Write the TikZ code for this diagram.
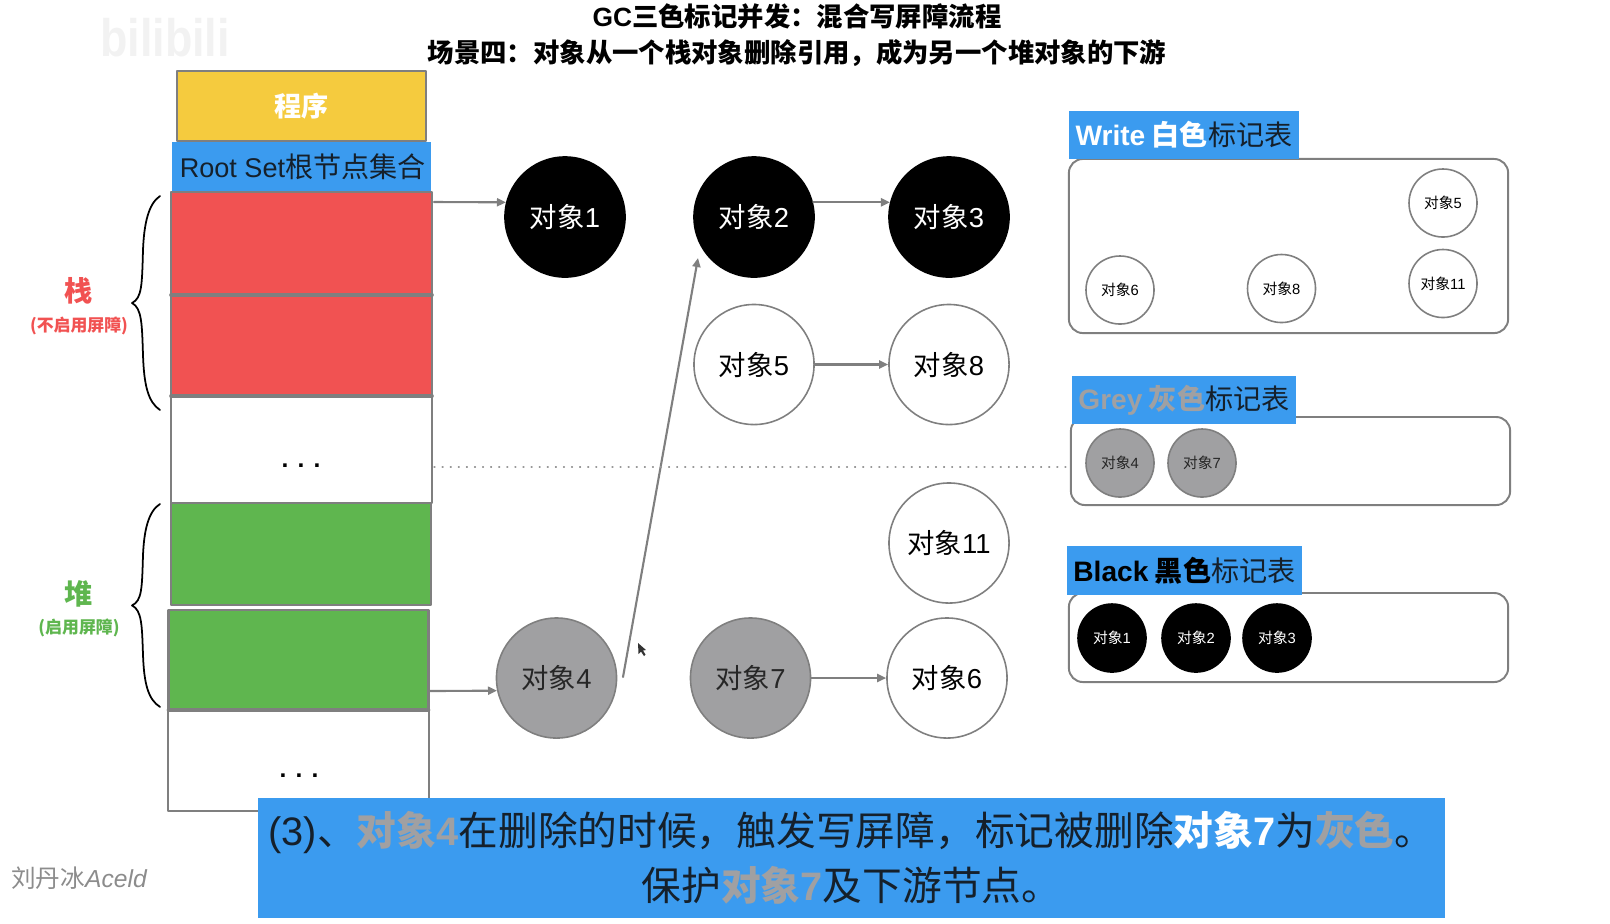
\documentclass[tikz,border=0pt]{standalone}
\usepackage{fontspec}
\setmainfont{Noto Sans CJK SC}
\newfontfamily\en{Liberation Sans}
\usetikzlibrary{arrows.meta}
\definecolor{progyellow}{HTML}{F5CB3E}
\definecolor{tagblue}{HTML}{3B9BEF}
\definecolor{stackred}{HTML}{F15252}
\definecolor{heapgreen}{HTML}{5FB64F}
\definecolor{objgrey}{HTML}{A0A0A2}
\definecolor{linegrey}{HTML}{7F7F7F}
\definecolor{inkdark}{HTML}{15202B}
\newcommand\obj[1]{对象{\en #1}}
\newcommand\size[1]{\fontsize{#1}{#1}\selectfont}
\begin{document}
\begin{tikzpicture}[x=0.01cm, y=-0.01cm, line cap=round, line join=round,
    cell/.style={draw=linegrey, line width=0.6pt, inner sep=0pt, outer sep=0pt},
    slot/.style={cell, line width=0.7pt},
    tag/.style={fill=tagblue, inner sep=0pt, outer sep=0pt, text=inkdark, font=\size{8}},
    tbl/.style={draw=linegrey, line width=0.55pt, rounded corners=0.14cm, inner sep=0pt, fill=white},
    bigobj/.style={circle, draw=linegrey, line width=0.45pt, minimum size=1.2cm, inner sep=0pt, font=\size{7.8}},
    smallobj/.style={circle, draw=linegrey, line width=0.45pt, minimum size=0.68cm, inner sep=0pt, font=\size{4.2}},
    blackobj/.style={fill=black, draw=black, text=white},
    greyobj/.style={fill=objgrey, text=black!85},
    link/.style={draw=linegrey, line width=0.6pt, -{Triangle[length=0.09cm, width=0.08cm]}},
    brace/.style={draw=black, line width=0.5pt}]
  \useasboundingbox (0,0) rectangle (1610,923);
  % 水印
  \node[text=black!5, font=\en\bfseries\size{15}, xscale=0.85] (logo) at (165,38) {bilibili};
  % 标题
  \node[font=\bfseries\size{7.5}] (title) at (797,16) {{\en GC}三色标记并发：混合写屏障流程};
  \node[font=\bfseries\size{7.5}] (subtitle) at (797,53.5) {场景四：对象从一个栈对象删除引用，成为另一个堆对象的下游};
  % 栈和堆
  \node[cell, fill=progyellow, text=white, font=\bfseries\size{7.7}, minimum width=2.49cm, minimum height=0.70cm] (prog) at (301.5,106) {程序};
  \node[tag, minimum width=2.59cm, minimum height=0.49cm] (root) at (301.5,166.5) {\hspace{-0.05cm}{\en\size{7.7} Root Set}根节点集合};
  \node[slot, fill=stackred, minimum width=2.61cm, minimum height=1.03cm] (red1) at (301.5,243.5) {};
  \node[slot, fill=stackred, minimum width=2.61cm, minimum height=1.01cm] (red2) at (301.5,345.5) {};
  \node[cell, minimum width=2.61cm, minimum height=1.07cm] (stackfree) at (301.5,449.5) {};
  \node[cell, fill=heapgreen, minimum width=2.60cm, minimum height=1.02cm] (green1) at (301,554) {};
  \node[slot, fill=heapgreen, minimum width=2.60cm, minimum height=1.00cm] (green2) at (298.5,660) {};
  \node[cell, minimum width=2.60cm, minimum height=1.01cm] (heapfree) at (298.5,760.5) {};
  \foreach \q in {red1,red2,green2}
    \draw[draw=linegrey, line width=1pt] (\q.south west) -- (\q.south east);
  \node[font=\en\bfseries\size{7}, anchor=base] (dots1) at (301,467) {. . .};
  \node[font=\en\bfseries\size{7}, anchor=base] (dots2) at (299,777) {. . .};
  % 花括号
  \foreach \q/\s in {0/1,318/0.9486}
    \draw[brace, shift={(0,\q)}, yscale=\s] (160,196) .. controls (148,204) and (144,225) .. (143,250)
      .. controls (142,285) and (142,298) .. (132,303) .. controls (142,308) and (142,325) .. (143,355)
      .. controls (144,385) and (148,402) .. (160,410);
  \node[text=stackred, font=\bfseries\size{8}] (stacklab) at (79,291) {栈};
  \node[text=stackred, font=\bfseries\size{4.8}] (stacknote) at (79,326) {(不启用屏障)};
  \node[text=heapgreen, font=\bfseries\size{8}] (heaplab) at (79,594) {堆};
  \node[text=heapgreen, font=\bfseries\size{4.8}] (heapnote) at (79,628) {(启用屏障)};
  % 对象
  \node[bigobj, blackobj] (o1) at (565,217) {\obj{1}};
  \node[bigobj, blackobj] (o2) at (754,217) {\obj{2}};
  \node[bigobj, blackobj] (o3) at (949,217) {\obj{3}};
  \node[bigobj] (o5) at (754,364.5) {\obj{5}};
  \node[bigobj] (o8) at (949,364.5) {\obj{8}};
  \node[bigobj] (o11) at (949,543) {\obj{11}};
  \node[bigobj, greyobj] (o4) at (556.5,678) {\obj{4}};
  \node[bigobj, greyobj] (o7) at (750.5,678) {\obj{7}};
  \node[bigobj] (o6) at (947,678) {\obj{6}};
  % 连线
  \coordinate (rootout) at (434,202);
  \coordinate (heapout) at (430,691);
  \coordinate (cutfrom) at (623,677);
  \coordinate (cutto) at (698,258);
  \coordinate (lineL) at (434,467);
  \coordinate (lineR) at (1068,467);
  \draw[link] (rootout) -- (o1.166);
  \draw[link] (heapout) -- (o4.192);
  \draw[link] (o2.14) -- (o3.166);
  \draw[link] (o5) -- (o8);
  \draw[link] (o7) -- (o6);
  \draw[link] (cutfrom) -- (cutto);
  \draw[draw=linegrey!80, line width=0.3pt, dotted] (lineL) -- (lineR);
  \fill[black!80] (638,643) -- (638.5,654) -- (641,651.5) -- (644,656) -- (645.5,654.5) -- (643,650.5) -- (646,650) -- cycle;
  % 白色标记表
  \node[tbl, minimum width=4.39cm, minimum height=1.74cm] (writebox) at (1288.5,246) {};
  \node[tag, minimum width=2.30cm, minimum height=0.48cm] (writetag) at (1184,135)
    {\textcolor{white}{\textbf{{\en Write} 白色}}标记表};
  \foreach \x/\y/\n in {1443/203/5, 1443/283.5/11, 1120/290/6, 1281.5/288.5/8}
    \node[smallobj] (w\n) at (\x,\y) {\obj{\n}};
  % 灰色标记表
  \node[tbl, minimum width=4.39cm, minimum height=0.88cm] (greybox) at (1290.5,461) {};
  \node[tag, minimum width=2.24cm, minimum height=0.48cm] (greytag) at (1184,400)
    {\textcolor{objgrey}{\textbf{{\en Grey} 灰色}}标记表};
  \foreach \x/\y/\n in {1120/463/4, 1202/463/7}
    \node[smallobj, greyobj] (g\n) at (\x,\y) {\obj{\n}};
  % 黑色标记表
  \node[tbl, minimum width=4.39cm, minimum height=0.89cm] (blackbox) at (1288.5,637.5) {};
  \node[tag, minimum width=2.35cm, minimum height=0.49cm] (blacktag) at (1184.5,570.5)
    {\textcolor{black}{\textbf{{\en Black} 黑色}}标记表};
  \foreach \x/\y/\n in {1112/638/1, 1196/638/2, 1277/638/3}
    \node[smallobj, blackobj] (b\n) at (\x,\y) {\obj{\n}};
  % 说明
  \node[fill=tagblue, text=inkdark, inner sep=0pt, minimum width=11.87cm, minimum height=1.20cm,
    align=center, font=\fontsize{11.3}{15.7}\selectfont] (note) at (851.5,858)
    {{\en (3)}、\textcolor{objgrey}{\textbf{\obj{4}}}在删除的时候，触发写屏障，标记被删除\textcolor{white}{\textbf{\obj{7}}}为\textcolor{objgrey}{\textbf{灰色}}。\\
     保护\textcolor{objgrey}{\textbf{\obj{7}}}及下游节点。};
  \node[text=black!45, font=\size{7}] (sign) at (79,878) {刘丹冰{\en\itshape Aceld}};
\end{tikzpicture}
\end{document}
